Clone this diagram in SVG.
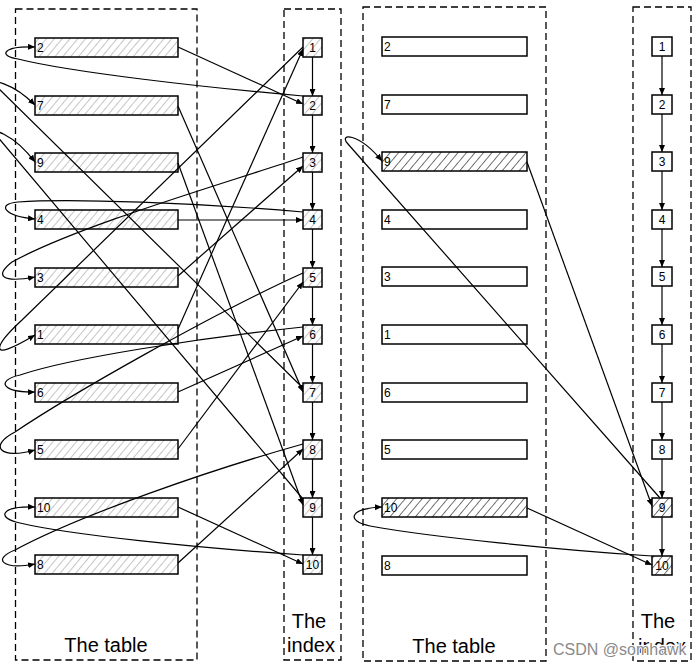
<svg xmlns="http://www.w3.org/2000/svg" width="698" height="669" viewBox="0 0 698 669">
<style>
.frame{fill:none;stroke:#000;stroke-width:1.3;stroke-dasharray:7 4}
.row{stroke:#000;stroke-width:1.5}
.lt{fill:url(#hl)}
.dk{fill:url(#hd)}
.pl{fill:#fff}
.lbl{font-family:"Liberation Sans",Arial,sans-serif;font-size:12px;fill:#000}
.ctr{text-anchor:middle}
.big{font-family:"Liberation Sans",Arial,sans-serif;font-size:20px;fill:#000;text-anchor:middle}
.con{fill:none;stroke:#000;stroke-width:1.2}
.arr{marker-end:url(#ah)}
</style>
<defs>
<marker id="ah" markerWidth="8" markerHeight="6" refX="7" refY="3" orient="auto" markerUnits="userSpaceOnUse"><path d="M0,0 L7,3 L0,6 z" fill="#000"/></marker>
<pattern id="hl" width="6" height="6" patternUnits="userSpaceOnUse" patternTransform="rotate(40)"><rect width="6" height="6" fill="#fff"/><line x1="0" y1="0" x2="0" y2="6" stroke="#8c8c8c" stroke-width="1"/></pattern>
<pattern id="hd" width="6.5" height="6.5" patternUnits="userSpaceOnUse" patternTransform="rotate(40)"><rect width="6.5" height="6.5" fill="#fff"/><line x1="0" y1="0" x2="0" y2="6.5" stroke="#000" stroke-width="1.1"/></pattern>
</defs>
<rect width="698" height="669" fill="#fff"/>

<g id="frames">
<rect class="frame" x="15.5" y="9" width="181.5" height="651"/>
<rect class="frame" x="284" y="9" width="57" height="651"/>
<rect class="frame" x="363" y="7" width="183" height="654"/>
<rect class="frame" x="633" y="7" width="58" height="654"/>
</g>

<g id="left-table">
<g id="L-row2"><rect class="row lt" x="35" y="38" width="143" height="19"/><text class="lbl" x="37" y="52">2</text></g>
<g id="L-row7"><rect class="row lt" x="35" y="96" width="143" height="19"/><text class="lbl" x="37" y="110">7</text></g>
<g id="L-row9"><rect class="row lt" x="35" y="153" width="143" height="19"/><text class="lbl" x="37" y="167">9</text></g>
<g id="L-row4"><rect class="row lt" x="35" y="210" width="143" height="19"/><text class="lbl" x="37" y="224">4</text></g>
<g id="L-row3"><rect class="row lt" x="35" y="268" width="143" height="19"/><text class="lbl" x="37" y="282">3</text></g>
<g id="L-row1"><rect class="row lt" x="35" y="325" width="143" height="19"/><text class="lbl" x="37" y="339">1</text></g>
<g id="L-row6"><rect class="row lt" x="35" y="383" width="143" height="19"/><text class="lbl" x="37" y="397">6</text></g>
<g id="L-row5"><rect class="row lt" x="35" y="440" width="143" height="19"/><text class="lbl" x="37" y="454">5</text></g>
<g id="L-row10"><rect class="row lt" x="35" y="498" width="143" height="19"/><text class="lbl" x="37" y="512">10</text></g>
<g id="L-row8"><rect class="row lt" x="35" y="555" width="143" height="19"/><text class="lbl" x="37" y="569">8</text></g>
</g>

<g id="left-index">
<g id="L-idx1"><rect class="row lt" x="303" y="38" width="19" height="19"/><text class="lbl ctr" x="312.5" y="52">1</text></g>
<g id="L-idx2"><rect class="row lt" x="303" y="96" width="19" height="19"/><text class="lbl ctr" x="312.5" y="110">2</text></g>
<g id="L-idx3"><rect class="row lt" x="303" y="153" width="19" height="19"/><text class="lbl ctr" x="312.5" y="167">3</text></g>
<g id="L-idx4"><rect class="row lt" x="303" y="210" width="19" height="19"/><text class="lbl ctr" x="312.5" y="224">4</text></g>
<g id="L-idx5"><rect class="row lt" x="303" y="268" width="19" height="19"/><text class="lbl ctr" x="312.5" y="282">5</text></g>
<g id="L-idx6"><rect class="row lt" x="303" y="325" width="19" height="19"/><text class="lbl ctr" x="312.5" y="339">6</text></g>
<g id="L-idx7"><rect class="row lt" x="303" y="383" width="19" height="19"/><text class="lbl ctr" x="312.5" y="397">7</text></g>
<g id="L-idx8"><rect class="row lt" x="303" y="440" width="19" height="19"/><text class="lbl ctr" x="312.5" y="454">8</text></g>
<g id="L-idx9"><rect class="row lt" x="303" y="498" width="19" height="19"/><text class="lbl ctr" x="312.5" y="512">9</text></g>
<g id="L-idx10"><rect class="row lt" x="303" y="555" width="19" height="19"/><text class="lbl ctr" x="312.5" y="569">10</text></g>
</g>

<g id="right-table">
<g id="R-row2"><rect class="row pl" x="382" y="37" width="145" height="19"/><text class="lbl" x="384" y="51">2</text></g>
<g id="R-row7"><rect class="row pl" x="382" y="95" width="145" height="19"/><text class="lbl" x="384" y="109">7</text></g>
<g id="R-row9"><rect class="row dk" x="382" y="152" width="145" height="19"/><text class="lbl" x="384" y="166">9</text></g>
<g id="R-row4"><rect class="row pl" x="382" y="210" width="145" height="19"/><text class="lbl" x="384" y="224">4</text></g>
<g id="R-row3"><rect class="row pl" x="382" y="267" width="145" height="19"/><text class="lbl" x="384" y="281">3</text></g>
<g id="R-row1"><rect class="row pl" x="382" y="325" width="145" height="19"/><text class="lbl" x="384" y="339">1</text></g>
<g id="R-row6"><rect class="row pl" x="382" y="383" width="145" height="19"/><text class="lbl" x="384" y="397">6</text></g>
<g id="R-row5"><rect class="row pl" x="382" y="440" width="145" height="19"/><text class="lbl" x="384" y="454">5</text></g>
<g id="R-row10"><rect class="row dk" x="382" y="498" width="145" height="19"/><text class="lbl" x="384" y="512">10</text></g>
<g id="R-row8"><rect class="row pl" x="382" y="556" width="145" height="19"/><text class="lbl" x="384" y="570">8</text></g>
</g>

<g id="right-index">
<g id="R-idx1"><rect class="row pl" x="652" y="37" width="20" height="19"/><text class="lbl ctr" x="662" y="51">1</text></g>
<g id="R-idx2"><rect class="row pl" x="652" y="95" width="20" height="19"/><text class="lbl ctr" x="662" y="109">2</text></g>
<g id="R-idx3"><rect class="row pl" x="652" y="152" width="20" height="19"/><text class="lbl ctr" x="662" y="166">3</text></g>
<g id="R-idx4"><rect class="row pl" x="652" y="210" width="20" height="19"/><text class="lbl ctr" x="662" y="224">4</text></g>
<g id="R-idx5"><rect class="row pl" x="652" y="267" width="20" height="19"/><text class="lbl ctr" x="662" y="281">5</text></g>
<g id="R-idx6"><rect class="row pl" x="652" y="325" width="20" height="19"/><text class="lbl ctr" x="662" y="339">6</text></g>
<g id="R-idx7"><rect class="row pl" x="652" y="383" width="20" height="19"/><text class="lbl ctr" x="662" y="397">7</text></g>
<g id="R-idx8"><rect class="row pl" x="652" y="440" width="20" height="19"/><text class="lbl ctr" x="662" y="454">8</text></g>
<g id="R-idx9"><rect class="row dk" x="652" y="498" width="20" height="19"/><text class="lbl ctr" x="662" y="512">9</text></g>
<g id="R-idx10"><rect class="row dk" x="652" y="556" width="20" height="19"/><text class="lbl ctr" x="662" y="570">10</text></g>
</g>

<g id="connectors">
<path class="con arr" d="M312.5,57 V96"/>
<path class="con arr" d="M312.5,115 V153"/>
<path class="con arr" d="M312.5,172 V210"/>
<path class="con arr" d="M312.5,229 V268"/>
<path class="con arr" d="M312.5,287 V325"/>
<path class="con arr" d="M312.5,344 V383"/>
<path class="con arr" d="M312.5,402 V440"/>
<path class="con arr" d="M312.5,459 V498"/>
<path class="con arr" d="M312.5,517 V555"/>
<path class="con arr" d="M178,47 L303,104"/>
<path class="con arr" d="M178,106 L303,392"/>
<path class="con arr" d="M178,163 L303,505"/>
<path class="con arr" d="M178,220 L303,220"/>
<path class="con arr" d="M178,276 L303,166"/>
<path class="con arr" d="M178,329 L303,49"/>
<path class="con arr" d="M178,392 L303,336"/>
<path class="con arr" d="M178,449 L303,282"/>
<path class="con arr" d="M178,507 L303,564"/>
<path class="con arr" d="M178,563 L303,449"/>
<path class="con arr" d="M303,96 C200,87 70,72 18,59 C-2,56 2,46 35,47"/>
<path class="con arr" d="M303,388 L-4,86 C-12,78 12,82 35,105"/>
<path class="con arr" d="M303,499 L-4,135 C-12,127 12,132 35,162"/>
<path class="con arr" d="M303,212 C200,203 70,198 18,202 C-4,204 4,216 35,219"/>
<path class="con arr" d="M303,157 C220,185 80,225 12,262 C-6,276 2,283 35,277"/>
<path class="con arr" d="M303,47 L22,320 C-5,345 -15,365 35,335"/>
<path class="con arr" d="M303,327 C200,338 70,358 20,375 C-6,381 4,393 35,392"/>
<path class="con arr" d="M303,273 C210,315 70,395 15,432 C-12,446 0,460 35,450"/>
<path class="con arr" d="M303,555 C200,548 70,535 20,523 C-4,518 0,506 35,507"/>
<path class="con arr" d="M303,444 C210,470 80,515 15,550 C-8,559 2,570 35,564"/>
<path class="con arr" d="M662,56 V95"/>
<path class="con arr" d="M662,114 V152"/>
<path class="con arr" d="M662,171 V210"/>
<path class="con arr" d="M662,229 V267"/>
<path class="con arr" d="M662,286 V325"/>
<path class="con arr" d="M662,344 V383"/>
<path class="con arr" d="M662,402 V440"/>
<path class="con arr" d="M662,459 V498"/>
<path class="con arr" d="M662,517 V556"/>
<path class="con arr" d="M527,162 L652,506"/>
<path class="con arr" d="M527,508 L652,565"/>
<path class="con arr" d="M660,498 L348,144 C338,133 358,132 382,161"/>
<path class="con arr" d="M652,556 C560,550 430,537 370,526 C345,521 350,508 382,507"/>
</g>

<g id="captions">
<text class="big" x="106" y="652">The table</text>
<text class="big" x="309" y="628">The</text>
<text class="big" x="311" y="652">index</text>
<text class="big" x="454" y="653">The table</text>
<text class="big" x="658" y="628">The</text>
<text class="big" x="662" y="653">index</text>
<text x="553" y="655" font-family="Liberation Sans, Arial, sans-serif" font-size="16" fill="#8a8a8a" stroke="#fff" stroke-width="2.5" paint-order="stroke">CSDN @somhawk</text>
</g>
</svg>
